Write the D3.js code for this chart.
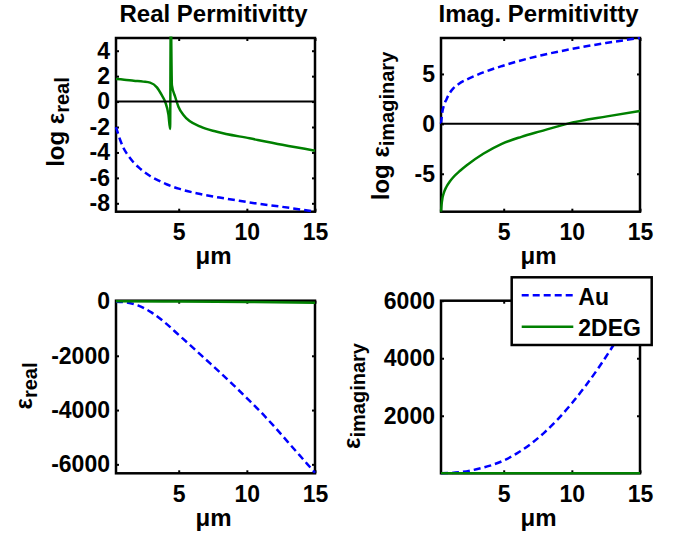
<!DOCTYPE html>
<html lang="en">
<head>
  <meta charset="UTF-8" />
  <title>Permittivity of Au and 2DEG</title>
  <style>
    body { margin: 0; background: #fff; }
    svg text { font-family: "Liberation Sans", Arial, sans-serif; font-weight: bold; fill: #000; }
  </style>
</head>
<body>
  <div id="chart"></div>

  <script src="https://d3js.org/d3.v7.min.js"></script>
  <script>
    const width = 679;
    const height = 535;

    // wavelength axis (um)
    const xLimits = [0.4, 15];
    const xTicks = [5, 10, 15];

    // top left: log of real permittivity
    const auLogRealX = [0.4, 0.7, 0.95, 1.2, 1.7, 2.2, 2.9, 3.5, 4.1, 5, 6.5, 8, 9, 10, 12.6, 15];
    const auLogRealY = [-2.0, -3.0, -3.65, -4.1, -4.8, -5.3, -5.85, -6.2, -6.5, -6.85, -7.25, -7.55, -7.72, -7.9, -8.28, -8.65];
    const degLogRealX = [0.4, 1.0, 1.7, 2.4, 2.9, 3.4, 3.75, 4.0, 4.25, 4.37, 4.42, 4.5, 4.74, 4.98, 5.35, 6.6, 7.8, 10.2, 12.6, 15];
    const degLogRealY = [1.77, 1.72, 1.64, 1.57, 1.49, 1.12, 0.52, 0.0, -1.05, -2.15, 7, 1.3, 0.38, -0.4, -1.05, -1.97, -2.37, -2.89, -3.4, -3.86];

    // top right: log of imaginary permittivity
    const auLogImagX = [0.4, 0.5, 0.6, 0.8, 1.0, 1.3, 1.7, 2.3, 2.8, 3.5, 4.9, 6, 7.7, 10, 12.5, 15];
    const auLogImagY = [0, 1.2, 1.8, 2.45, 3.0, 3.55, 4.0, 4.45, 4.75, 5.15, 5.8, 6.25, 6.85, 7.5, 8.1, 8.6];
    const degLogImagX = [0.4, 0.45, 0.5, 0.6, 0.8, 1.06, 1.3, 1.8, 2.29, 3.5, 4.86, 6.3, 7.68, 9.64, 12.58, 15];
    const degLogImagY = [-8.8, -8.0, -7.5, -6.95, -6.3, -5.75, -5.35, -4.7, -4.15, -3.0, -2.0, -1.3, -0.75, 0, 0.75, 1.3];

    // bottom left: real permittivity
    const auRealX = [0.4, 1, 2, 3, 4, 5, 6, 7, 8, 9, 10, 11, 12, 13, 14, 15];
    const auRealY = [-7, -25, -140, -400, -780, -1230, -1680, -2140, -2600, -3070, -3560, -4060, -4600, -5170, -5740, -6310];
    const degRealX = [0.4, 3.9, 4.5, 5, 10, 15];
    const degRealY = [6, 0, 4, -1, -18, -47];

    // bottom right: imaginary permittivity
    const auImagX = [0.4, 1, 2, 3, 4, 5, 6, 7, 8, 9, 10, 11, 12, 13, 14, 15];
    const auImagY = [1, 8, 50, 140, 265, 445, 700, 1025, 1425, 1895, 2435, 3035, 3695, 4415, 5180, 6000];
    const degImagX = [0.4, 5, 10, 15];
    const degImagY = [0.0002, 0.15, 1, 3.7];

    const seriesNames = ['Au', '2DEG'];
    const colors = { Au: '#0000ff', '2DEG': '#008000' };

    const svg = d3.select('#chart')
      .append('svg')
      .attr('width', width)
      .attr('height', height);

    let clipId = 0;

    function panel(o) {
      const g = svg.append('g');
      const x = d3.scaleLinear().domain(xLimits).range([o.left, o.right]);
      const y = d3.scaleLinear().domain(o.yLimits).range([o.bottom, o.top]);

      g.append('rect')
        .attr('x', o.left).attr('y', o.top)
        .attr('width', o.right - o.left).attr('height', o.bottom - o.top)
        .attr('fill', 'none').attr('stroke', '#000').attr('stroke-width', 2.5);

      const ax = (gen, tr) => g.append('g')
        .attr('transform', tr)
        .call(gen)
        .attr('font-size', 23)
        .attr('font-family', null)
        .call(s => s.select('.domain').remove())
        .call(s => s.selectAll('.tick line').attr('stroke-width', 2));

      ax(d3.axisBottom(x).tickValues(xTicks).tickSizeInner(-3).tickSizeOuter(0).tickPadding(12).tickFormat(d => String(d)),
        `translate(0,${o.bottom})`);
      ax(d3.axisTop(x).tickValues(xTicks).tickSizeInner(-3).tickSizeOuter(0).tickFormat(''),
        `translate(0,${o.top})`);
      ax(d3.axisLeft(y).tickValues(o.yTicks).tickSizeInner(-3).tickSizeOuter(0).tickPadding(6).tickFormat(d => String(d)),
        `translate(${o.left},0)`);
      ax(d3.axisRight(y).tickValues(o.yTicks).tickSizeInner(-3).tickSizeOuter(0).tickFormat(''),
        `translate(${o.right},0)`);

      // data, clipped to the axes box
      const id = 'clip' + (clipId++);
      svg.append('clipPath').attr('id', id)
        .append('rect')
        .attr('x', o.left - 2).attr('y', o.top - 1.5)
        .attr('width', o.right - o.left + 4).attr('height', o.bottom - o.top + 3);

      const line = d3.line().x(d => x(d[0])).y(d => y(d[1])).curve(d3.curveMonotoneX);
      const dataG = g.append('g').attr('clip-path', `url(#${id})`);
      o.series.forEach(s => {
        dataG.append('path')
          .datum(d3.zip(s.x, s.y))
          .attr('d', line)
          .attr('fill', 'none')
          .attr('stroke', colors[s.name])
          .attr('stroke-width', 2.5)
          .attr('stroke-dasharray', s.name === 'Au' ? '7,4' : null);
      });

      if (o.zero) {
        g.append('line')
          .attr('x1', o.left).attr('x2', o.right)
          .attr('y1', y(0)).attr('y2', y(0))
          .attr('stroke', '#000').attr('stroke-width', 2);
      }

      const cx = (o.left + o.right) / 2 - 2;
      if (o.title) {
        g.append('text')
          .attr('x', cx).attr('y', 22)
          .attr('text-anchor', 'middle')
          .attr('font-size', 24)
          .text(o.title);
      }

      g.append('text')
        .attr('x', cx).attr('y', o.bottom + 52.5)
        .attr('text-anchor', 'middle')
        .attr('font-size', 24)
        .text('\u03bcm');

      const yl = g.append('text')
        .attr('transform', `translate(${o.labelX},${o.labelY}) rotate(-90)`)
        .attr('text-anchor', 'middle')
        .attr('font-size', 24);
      yl.append('tspan').text(o.label[0]);
      yl.append('tspan').attr('dy', 5).attr('font-size', 20).text(o.label[1]);

      return { x, y, g };
    }

    panel({
      left: 116, right: 315, top: 38, bottom: 211.7,
      yLimits: [-8.66, 5], yTicks: [-8, -6, -4, -2, 0, 2, 4], zero: true,
      title: 'Real Permitivitty', label: ['log \u03b5', 'real'], labelX: 64, labelY: 122,
      series: [
        { name: 'Au', x: auLogRealX, y: auLogRealY },
        { name: '2DEG', x: degLogRealX, y: degLogRealY }
      ]
    });

    panel({
      left: 441, right: 640, top: 38, bottom: 211.7,
      yLimits: [-8.8, 8.6], yTicks: [-5, 0, 5], zero: true,
      title: 'Imag. Permitivitty', label: ['log \u03b5', 'imaginary'], labelX: 389, labelY: 126,
      series: [
        { name: 'Au', x: auLogImagX, y: auLogImagY },
        { name: '2DEG', x: degLogImagX, y: degLogImagY }
      ]
    });

    panel({
      left: 116, right: 315, top: 300.7, bottom: 473.3,
      yLimits: [-6330, 30], yTicks: [-6000, -4000, -2000, 0], zero: false,
      label: ['\u03b5', 'real'], labelX: 32, labelY: 386,
      series: [
        { name: 'Au', x: auRealX, y: auRealY },
        { name: '2DEG', x: degRealX, y: degRealY }
      ]
    });

    panel({
      left: 441, right: 640, top: 300.7, bottom: 473.3,
      yLimits: [0, 6000], yTicks: [2000, 4000, 6000], zero: false,
      label: ['\u03b5', 'imaginary'], labelX: 360, labelY: 396,
      series: [
        { name: 'Au', x: auImagX, y: auImagY },
        { name: '2DEG', x: degImagX, y: degImagY }
      ]
    });

    // legend
    const legend = svg.append('g').attr('transform', 'translate(511.7,277.3)');
    legend.append('rect')
      .attr('width', 140).attr('height', 67.7)
      .attr('fill', '#fff').attr('stroke', '#000').attr('stroke-width', 2.5);
    seriesNames.forEach((name, i) => {
      const ly = 18 + i * 31.5;
      legend.append('line')
        .attr('x1', 10).attr('x2', 61.6)
        .attr('y1', ly).attr('y2', ly)
        .attr('stroke', colors[name]).attr('stroke-width', 2.5)
        .attr('stroke-dasharray', name === 'Au' ? '7,4' : null);
      legend.append('text')
        .attr('x', 66.6).attr('y', ly + 9.5)
        .attr('font-size', 23)
        .text(name);
    });
  </script>
</body>
</html>
